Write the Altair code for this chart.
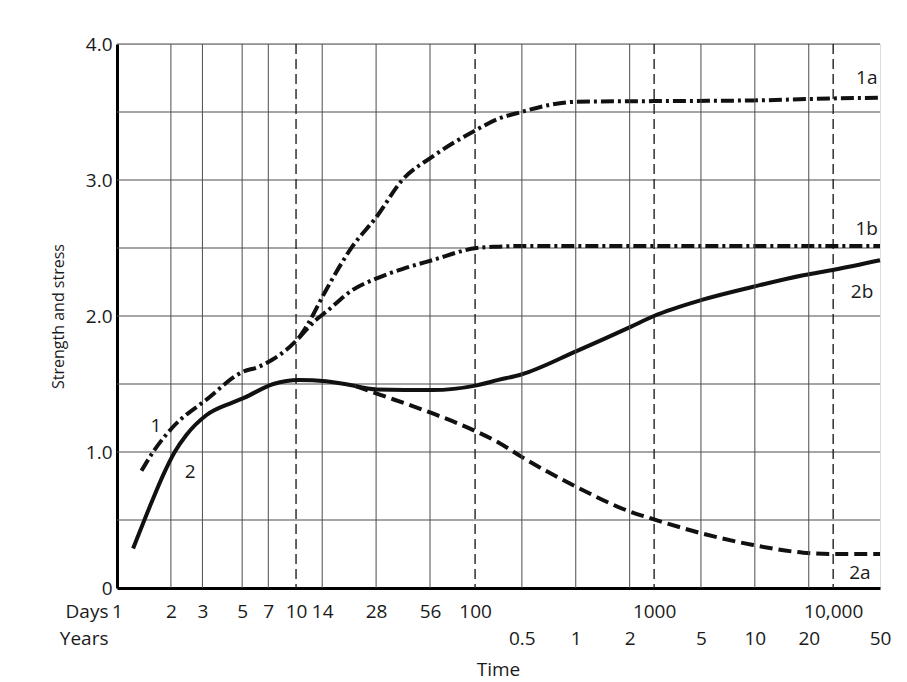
import altair as alt
import pandas as pd

FONT = "Open Sans"
INK = "#1a1a1a"

# ---- data (x in days, y = strength/stress) ----
c1_days = [1.37, 1.59, 2.04, 3.16, 5.15, 6.0, 7.4, 8.8, 10.4]
c1_vals = [0.862, 1.0, 1.18, 1.385, 1.595, 1.62, 1.68, 1.75, 1.84]

c1a_days = [10.4, 11.4, 14.7, 20.6, 28.2, 39.2, 57.5, 102, 135, 181, 256, 366, 997, 3575, 10090, 18262]
c1a_vals = [1.84, 1.92, 2.19, 2.51, 2.73, 3.0, 3.17, 3.37, 3.45, 3.50, 3.55, 3.575, 3.58, 3.585, 3.60, 3.605]

c1b_days = [10.4, 12.9, 14.7, 20.6, 28.2, 39.2, 57.5, 102, 135, 181, 1000, 10000, 18262]
c1b_vals = [1.84, 1.97, 2.03, 2.19, 2.277, 2.345, 2.41, 2.50, 2.51, 2.515, 2.515, 2.515, 2.515]

c2_days = [1.23, 1.56, 1.81, 2.10, 2.44, 3.15, 4.44, 5.15, 7.47, 10.4, 14.7, 21.5]
c2_vals = [0.29, 0.63, 0.83, 1.0, 1.125, 1.27, 1.365, 1.40, 1.50, 1.53, 1.52, 1.485]

c2b_days = [21.5, 28.2, 57.5, 102, 135, 181, 366, 739, 997, 1867, 3575, 6808, 10090, 18262]
c2b_vals = [1.485, 1.46, 1.455, 1.49, 1.53, 1.57, 1.74, 1.92, 2.0, 2.12, 2.215, 2.30, 2.34, 2.41]

c2a_days = [21.5, 28.2, 57.5, 102, 135, 181, 366, 739, 997, 1867, 3575, 6808, 10090, 18262]
c2a_vals = [1.485, 1.43, 1.285, 1.15, 1.07, 0.966, 0.745, 0.56, 0.505, 0.40, 0.316, 0.26, 0.25, 0.25]

day_ticks = [1, 2, 3, 5, 7, 10, 14, 28, 56, 100, 1000, 10000]
day_grid = [2, 3, 5, 7, 14, 28, 56]
dashed_grid = [10, 100, 1000, 10000]
year_labels = ["0.5", "1", "2", "5", "10", "20", "50"]
year_days = [182.5, 365, 730, 1826, 3652, 7305, 18262]
y_grid = [0.5, 1.0, 1.5, 2.0, 2.5, 3.0, 3.5, 4.0]
y_ticks = [0, 1, 2, 3, 4]

curve_labels = ["1a", "1b", "2b", "2a", "1", "2"]
label_days = [15400, 15400, 14500, 14100, 1.65, 2.56]
label_vals = [3.75, 2.64, 2.18, 0.11, 1.19, 0.85]

# ---- chart ----
W, H = 763, 544
X_DOMAIN = [1, 18262]
xscale = alt.Scale(type="log", domain=X_DOMAIN, nice=False)
yscale = alt.Scale(domain=[0, 4], nice=False)

x_axis = alt.Axis(
    values=day_ticks,
    labelExpr="datum.value == 10000 ? '10,000' : '' + datum.value",
    title="Days",
    titleX=-9, titleY=14, titleAlign="right", titleBaseline="top",
    titleFont=FONT, titleFontSize=19, titleFontWeight="normal", titleColor=INK,
    labelFont=FONT, labelFontSize=19, labelColor=INK,
    labelPadding=14, tickSize=0, ticks=False,
    labelFlush=False, labelOverlap=False,
    domainColor="#000", domainWidth=3, grid=False,
)
y_axis = alt.Axis(
    values=y_ticks,
    labelExpr="datum.value == 0 ? '0' : format(datum.value, '.1f')",
    title="Strength and stress",
    titleFont=FONT, titleFontSize=16, titleFontWeight="normal", titleColor=INK,
    titlePadding=19,
    labelFont=FONT, labelFontSize=19, labelColor=INK,
    labelPadding=5, ticks=False, tickSize=0,
    labelFlush=False,
    domainColor="#000", domainWidth=3, grid=False,
)

X = alt.X("day:Q", scale=xscale, axis=x_axis)
Y = alt.Y("value:Q", scale=yscale, axis=y_axis)

hgrid = alt.Chart(pd.DataFrame({"value": y_grid})).mark_rule(
    color="#4d4d4d", strokeWidth=1
).encode(y=Y)

vgrid = alt.Chart(pd.DataFrame({"day": day_grid})).mark_rule(
    color="#4d4d4d", strokeWidth=1
).encode(x=X)

vdash = alt.Chart(pd.DataFrame({"day": dashed_grid})).mark_rule(
    color="#222", strokeWidth=1.4, strokeDash=[10, 5]
).encode(x=X)


def curve(days, vals, dash=None, width=4):
    kw = dict(color="#111", strokeWidth=width, interpolate="monotone", strokeCap="butt")
    if dash:
        kw["strokeDash"] = dash
    return alt.Chart(pd.DataFrame({"day": days, "value": vals})).mark_line(**kw).encode(
        x=X, y=Y, order="day:Q",
    )


dashdot = [13, 4, 3, 4]
l1 = curve(c1_days, c1_vals, dashdot)
l1a = curve(c1a_days, c1a_vals, dashdot)
l1b = curve(c1b_days, c1b_vals, dashdot)
l2 = curve(c2_days, c2_vals)
l2b = curve(c2b_days, c2b_vals)
l2a = curve(c2a_days, c2a_vals, [13, 6], 4)

labels = alt.Chart(pd.DataFrame({"day": label_days, "value": label_vals, "t": curve_labels})).mark_text(
    font=FONT, fontSize=19, color=INK, align="center", baseline="middle"
).encode(x=X, y=Y, text="t:N")

main = alt.layer(hgrid, vgrid, vdash, l1, l1a, l1b, l2, l2b, l2a, labels)

years_axis = alt.Axis(
    orient="bottom",
    values=year_days,
    labelExpr="{'182.5':'0.5','365':'1','730':'2','1826':'5','3652':'10','7305':'20','18262':'50'}['' + datum.value]",
    title="Years",
    titleX=-9, titleY=7, titleAlign="right", titleBaseline="top",
    titleFont=FONT, titleFontSize=19, titleFontWeight="normal", titleColor=INK,
    labelFont=FONT, labelFontSize=19, labelColor=INK,
    labelPadding=7, ticks=False, tickSize=0, domain=False, grid=False,
    labelFlush=False, labelOverlap=False, offset=34,
)
years = alt.Chart(pd.DataFrame({"day": year_days[:-1]})).mark_rule(
    color="#4d4d4d", strokeWidth=1
).encode(x=alt.X("day:Q", scale=xscale, axis=years_axis))

chart = alt.layer(main, years).resolve_scale(x="independent").properties(
    width=W, height=H,
    autosize=alt.AutoSizeParams(type="none"),
    padding={"left": 117, "top": 44, "right": 27, "bottom": 94},
    title=alt.TitleParams("Time", orient="bottom", anchor="middle", font=FONT,
                          fontSize=19, fontWeight="normal", color=INK, offset=13),
).configure_view(stroke="#4d4d4d", strokeWidth=1).configure(background="white")

chart.save("out.html", embed_options={"renderer": "svg", "actions": False})
